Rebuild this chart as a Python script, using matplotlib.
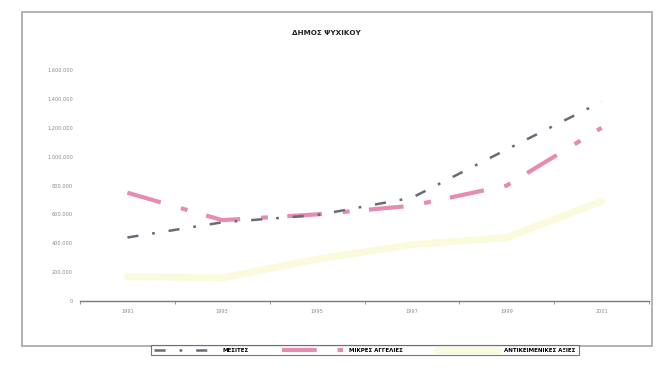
import matplotlib
matplotlib.use("Agg")
import matplotlib.pyplot as plt
from matplotlib.patches import Rectangle
from matplotlib.ticker import FuncFormatter, FixedLocator

plt.rcParams['font.family'] = ['DejaVu Sans']
plt.rcParams['lines.scale_dashes'] = False

# Data
years = ["1991", "1993", "1995", "1997", "1999", "2001"]
brokers = [440000, 545000, 595000, 715000, 1050000, 1380000]
classifieds = [750000, 560000, 600000, 660000, 800000, 1200000]
assessed = [170000, 160000, 290000, 390000, 440000, 690000]
series_names = ["ΜΕΣΙΤΕΣ", "ΜΙΚΡΕΣ ΑΓΓΕΛΙΕΣ", "ΑΝΤΙΚΕΙΜΕΝΙΚΕΣ ΑΞΙΕΣ"]
title = "ΔΗΜΟΣ ΨΥΧΙΚΟΥ"

W, H = 656, 370
fig = plt.figure(figsize=(W / 100, H / 100), dpi=100)
fig.patch.set_facecolor("white")

# chart border
fig.patches.append(Rectangle((22 / W, 1 - 346 / H), (652 - 22) / W, (346 - 12) / H,
                             transform=fig.transFigure, fill=False,
                             edgecolor="#a5a5a5", linewidth=1.2))

ax = fig.add_axes([80 / W, 1 - 301 / H, (649 - 80) / W, (301 - 70) / H])
x = list(range(len(years)))

ax.plot(x, brokers, color="#6b6b78", linewidth=1.8,
        dashes=(8, 10, 2, 10), label=series_names[0], zorder=4)
ax.plot(x, classifieds, color="#e58cb0", linewidth=3.0,
        dashes=(25, 15, 5, 14), label=series_names[1], zorder=3)
ax.plot(x, assessed, color="#fafadc", linewidth=5, solid_capstyle="round",
        label=series_names[2], zorder=2)

ax.set_xlim(-0.5, len(years) - 0.5)
ax.set_ylim(0, 1600000)
ax.set_yticks(range(0, 1600001, 200000))
ax.yaxis.set_major_formatter(FuncFormatter(
    lambda v, p: "0" if v == 0 else f"{int(v):,}".replace(",", ".")))
ax.set_xticks(x)
ax.set_xticklabels(years)
ax.xaxis.set_minor_locator(FixedLocator([i + 0.5 for i in range(-1, len(years))]))

for s in ("top", "right", "left"):
    ax.spines[s].set_visible(False)
ax.spines["bottom"].set_color("#7a7a7a")
ax.spines["bottom"].set_linewidth(1.0)
ax.tick_params(axis="y", length=0, labelsize=3.6, colors="#8a8a8a", pad=5)
ax.tick_params(axis="x", which="major", length=0, labelsize=3.6,
               colors="#8a8a8a", pad=6)
ax.tick_params(axis="x", which="minor", length=2.5, color="#8a8a8a")

fig.text(326 / W, 1 - 33 / H, title, ha="center", va="center",
         fontsize=5.2, fontweight="bold", color="#222222")

leg = fig.legend(loc="center", bbox_to_anchor=(365 / W, 1 - 350 / H), ncol=3,
                 fontsize=4, frameon=True, fancybox=False, handlelength=11,
                 columnspacing=6, handletextpad=1.2, borderpad=0.5)
leg.get_frame().set_edgecolor("#555555")
leg.get_frame().set_linewidth(0.8)
for t in leg.get_texts():
    t.set_fontweight("bold")

fig.savefig("out.png", dpi=100, facecolor="white")
